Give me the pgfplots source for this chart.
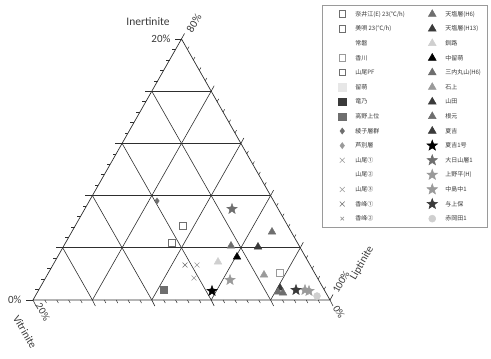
\documentclass[border=0pt]{standalone}
\usepackage{pgfplots}
\pgfplotsset{compat=1.18}
\usepackage{fontspec}
\setmainfont{Carlito}
\newfontfamily\cjk{Noto Sans CJK JP}
\definecolor{cdark}{HTML}{3A3A3A}
\definecolor{cmid}{HTML}{6E6E6E}
\definecolor{clight}{HTML}{9A9A9A}
\definecolor{cpale}{HTML}{CFCFCF}
\definecolor{cgrid}{HTML}{2E2E2E}
\pgfdeclareplotmark{fstar}{%
 \pgfpathmoveto{\pgfpointpolar{90}{\pgfplotmarksize}}%
 \pgfpathlineto{\pgfpointpolar{126}{0.42\pgfplotmarksize}}%
 \pgfpathlineto{\pgfpointpolar{162}{\pgfplotmarksize}}%
 \pgfpathlineto{\pgfpointpolar{198}{0.42\pgfplotmarksize}}%
 \pgfpathlineto{\pgfpointpolar{234}{\pgfplotmarksize}}%
 \pgfpathlineto{\pgfpointpolar{270}{0.42\pgfplotmarksize}}%
 \pgfpathlineto{\pgfpointpolar{306}{\pgfplotmarksize}}%
 \pgfpathlineto{\pgfpointpolar{342}{0.42\pgfplotmarksize}}%
 \pgfpathlineto{\pgfpointpolar{18}{\pgfplotmarksize}}%
 \pgfpathlineto{\pgfpointpolar{54}{0.42\pgfplotmarksize}}%
 \pgfpathclose
 \pgfusepathqfillstroke}
\newcommand{\LT}[1]{\makebox[56pt][l]{#1}}
\newcommand{\RT}[1]{\makebox[25pt][l]{#1}}
\pgfplotsset{
 osq/.style={only marks, mark=square, mark size=3.3pt, line width=0.9pt},
 fsq/.style={only marks, mark=square*, mark size=3.6pt},
 dia/.style={only marks, mark=diamond*, mark size=3pt},
 crs/.style={only marks, mark=x, mark size=3.5pt, line width=0.6pt},
 tri/.style={only marks, mark=triangle*, mark size=4.5pt},
 str/.style={only marks, mark=fstar, mark size=5.5pt},
}
\begin{document}
\begin{tikzpicture}
\begin{axis}[
 width=491pt, height=359pt, scale only axis,
 xmin=0, xmax=491, ymin=0, ymax=359,
 axis line style={draw=none}, xtick=\empty, ytick=\empty,
 clip=false,
 legend columns=2,
 legend cell align=left,
 legend image code/.code={%
  \begin{pgfinterruptboundingbox}\draw[#1] plot coordinates {(0pt,0pt)};\end{pgfinterruptboundingbox}
  \path[draw=none, fill=none] (-4pt,-3pt) rectangle (4pt,3pt);},
 legend style={at={(axis cs:322,354)}, anchor=north west, draw=clight, line width=0.5pt,
   font=\cjk\fontsize{6}{7}\selectfont, text=cdark,
   inner xsep=16pt, inner ysep=5pt, row sep=6.6pt,
   nodes={inner sep=1pt, text height=5pt, text depth=1pt},
   /tikz/every odd column/.append style={column sep=8pt},
   /tikz/every even column/.append style={column sep=16pt}},
]
% ---- triangle frame and grid ----
\draw[cgrid, line width=0.7pt] (33,59) -- (330,59) -- (181.5,320) -- cycle;
\pgfplotsinvokeforeach{1,2,3,4}{
 \draw[cgrid, line width=0.6pt] ({33+29.7*#1},{59+52.2*#1}) -- ({330-29.7*#1},{59+52.2*#1});
 \draw[cgrid, line width=0.6pt] ({33+59.4*#1},59) -- ({33+59.4*#1+148.5*(1-#1/5)},{59+261*(1-#1/5)});
 \draw[cgrid, line width=0.6pt] ({33+59.4*#1},59) -- ({33+29.7*#1},{59+52.2*#1});
}
% major ticks
\pgfplotsinvokeforeach{0,1,2,3,4,5}{
 \draw[cgrid, line width=0.6pt] ({33+29.7*#1},{59+52.2*#1}) -- ({33+29.7*#1-7},{59+52.2*#1});
 \draw[cgrid, line width=0.6pt] ({33+59.4*#1},59) -- ({33+59.4*#1+3},53);
 \draw[cgrid, line width=0.6pt] ({330-29.7*#1},{59+52.2*#1}) -- ({330-29.7*#1+3},{59+52.2*#1+5.5});
}
% minor ticks
\pgfplotsinvokeforeach{1,2,3,4,6,7,8,9,11,12,13,14,16,17,18,19,21,22,23,24}{
 \draw[cgrid, line width=0.5pt] ({33+5.94*#1},{59+10.44*#1}) -- ({33+5.94*#1-3.5},{59+10.44*#1});
 \draw[cgrid, line width=0.5pt] ({33+11.88*#1},59) -- ({33+11.88*#1+1.6},56);
 \draw[cgrid, line width=0.5pt] ({330-5.94*#1},{59+10.44*#1}) -- ({330-5.94*#1+1.6},{59+10.44*#1+2.8});
}
% ---- labels ----
\node[font=\fontsize{11.5}{12}\selectfont, text=cdark] at (148,337) {Inertinite};
\node[font=\fontsize{11}{12}\selectfont, text=cdark, anchor=east] at (174,320) {20\%};
\node[font=\fontsize{11}{12}\selectfont, text=cdark, rotate=60] at (194,336) {80\%};
\node[font=\fontsize{11}{12}\selectfont, text=cdark, anchor=east] at (25,59) {0\%};
\node[font=\fontsize{10.5}{12}\selectfont, text=cdark, rotate=-60] at (43,47) {20\%};
\node[font=\fontsize{11}{12}\selectfont, text=cdark, rotate=-60] at (25,27) {Vitrinite};
\node[font=\fontsize{10.5}{12}\selectfont, text=cdark, rotate=60] at (341,77) {100\%};
\node[font=\fontsize{11}{12}\selectfont, text=cdark, rotate=60] at (362,96) {Liptinite};
\node[font=\fontsize{10.5}{12}\selectfont, text=cdark, rotate=-60] at (339,47) {0\%};
% ---- data (interleaved: left column, right column) ----
\addplot[osq, draw=cmid] coordinates {(183,133)};
\addlegendentry{\LT{奈井江(E) 23(℃/h)}}
\addplot[tri, draw=cmid, fill=cmid] coordinates {(272,127)};
\addlegendentry{\RT{天塩層(H6)}}
\addplot[osq, draw=cmid] coordinates {(172,116)};
\addlegendentry{\LT{美唄 23(℃/h)}}
\addplot[tri, draw=cdark, fill=cdark] coordinates {(258,112)};
\addlegendentry{\RT{天塩層(H13)}}
\addlegendimage{fsq, draw=white, fill=white}
\addlegendentry{\LT{常磐}}
\addplot[tri, draw=cpale, fill=cpale] coordinates {(218,97)};
\addlegendentry{\RT{釧路}}
\addplot[osq, draw=clight] coordinates {(280,86)};
\addlegendentry{\LT{香川}}
\addplot[tri, draw=black, fill=black] coordinates {(237,102)};
\addlegendentry{\RT{中留萌}}
\addlegendimage{osq, draw=cmid}
\addlegendentry{\LT{山尾PF}}
\addplot[tri, draw=cmid, fill=cmid] coordinates {(231,113)};
\addlegendentry{\RT{三内丸山(H6)}}
\addlegendimage{fsq, draw=cpale!50, fill=cpale!50}
\addlegendentry{\LT{留萌}}
\addplot[tri, draw=clight, fill=clight] coordinates {(264,84)};
\addlegendentry{\RT{石上}}
\addlegendimage{fsq, draw=cdark, fill=cdark}
\addlegendentry{\LT{竜乃}}
\addplot[tri, draw=cdark, fill=cdark] coordinates {(280,71)};
\addlegendentry{\RT{山田}}
\addplot[fsq, draw=cmid, fill=cmid] coordinates {(164,69)};
\addlegendentry{\LT{高野上位}}
\addplot[tri, draw=cmid, fill=cmid] coordinates {(278,67) (283,66)};
\addlegendentry{\RT{根元}}
\addplot[dia, draw=cmid, fill=cmid] coordinates {(157,158)};
\addlegendentry{\LT{綾子層群}}
\addlegendimage{tri, draw=cdark, fill=cdark}
\addlegendentry{\RT{夏吉}}
\addlegendimage{dia, draw=clight, fill=clight}
\addlegendentry{\LT{芦別層}}
\addplot[str, draw=black, fill=black] coordinates {(212,68)};
\addlegendentry{\RT{夏吉1号}}
\addplot[crs, draw=clight] coordinates {(197,94)};
\addlegendentry{\LT{山尾①}}
\addplot[str, draw=cmid, fill=cmid] coordinates {(232,150)};
\addlegendentry{\RT{大日山層1}}
\addlegendimage{crs, draw=white}
\addlegendentry{\LT{山尾②}}
\addplot[str, draw=clight, fill=clight] coordinates {(230,79)};
\addlegendentry{\RT{上野平(H)}}
\addplot[crs, draw=clight] coordinates {(194,81)};
\addlegendentry{\LT{山尾③}}
\addplot[str, draw=clight, fill=clight] coordinates {(305,69) (309,68)};
\addlegendentry{\RT{中島中1}}
\addplot[crs, draw=cmid] coordinates {(185,94)};
\addlegendentry{\LT{香峰①}}
\addplot[str, draw=cdark, fill=cdark] coordinates {(296,69)};
\addlegendentry{\RT{与上保}}
\addlegendimage{crs, draw=clight, mark size=2.5pt}
\addlegendentry{\LT{香峰②}}
\addplot[only marks, mark=*, mark size=3.5pt, draw=cpale, fill=cpale] coordinates {(317,63)};
\addlegendentry{\RT{赤岡田1}}
\end{axis}
\end{tikzpicture}
\end{document}
